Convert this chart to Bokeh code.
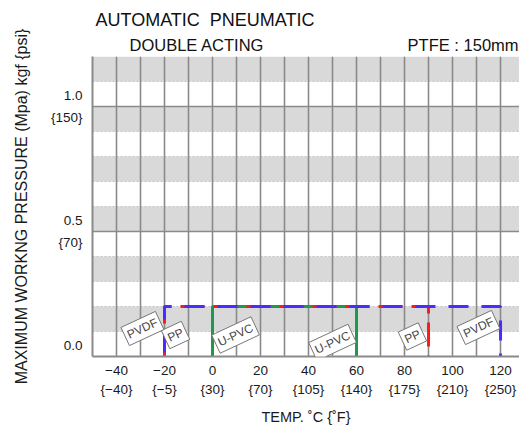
from bokeh.plotting import figure
from bokeh.models import Range1d, FixedTicker, Grid, Label, LinearAxis
from bokeh.embed import file_html
from bokeh.resources import INLINE

# ---------------- data ----------------
temp_c_ticks = [-40, -20, 0, 20, 40, 60, 80, 100, 120]
temp_c_labels = ["−40", "−20", "0", "20", "40", "60", "80", "100", "120"]
temp_f_labels = ["{−40}", "{−5}", "{30}", "{70}", "{105}", "{140}", "{175}", "{210}", "{250}"]
temp_grid = [-40, -30, -20, -10, 0, 10, 20, 30, 40, 50, 60, 70, 80, 90, 100, 110, 120]

pressure_ticks = [0.0, 0.5, 1.0]
pressure_mpa_labels = ["0.0", "0.5", "1.0"]
pressure_psi_labels = ["\u00a0", "{70}", "{150}"]
pressure_bands = [0.0, 0.1, 0.2, 0.3, 0.4, 0.5, 0.6, 0.7, 0.8, 0.9, 1.0, 1.1, 1.2]
pressure_major = [0.5, 1.0]

materials = ["U-PVC", "PP", "PVDF"]
t_min = [0, -20, -20]
t_max = [60, 90, 120]
p_max = [0.2, 0.2, 0.2]

title_line1 = "AUTOMATIC\u00a0 PNEUMATIC"
subtitles = ["DOUBLE ACTING", "PTFE : 150mm"]

# ---------------- styles ----------------
FONT = "Liberation Sans"
colors = {"U-PVC": "#1e9a4c", "PP": "#ff1a1a", "PVDF": "#4a2cff"}
dashes = {"U-PVC": "solid", "PP": "24 9", "PVDF": "20 13"}
dash_offsets = {"U-PVC": 0, "PP": 0, "PVDF": -4}
lab_lo = {"PVDF": (-9.2, 0.112), "PP": (4.6, 0.086), "U-PVC": (9.6, 0.086)}
lab_hi = {"PVDF": (-9.2, 0.116), "PP": (-6.7, 0.08), "U-PVC": (-10.0, 0.056)}
subtitle_pos = [-6.5, 104.4]   # horizontal centres of the two sub-title texts

p = figure(width=519, height=428, output_backend="svg", toolbar_location=None,
           x_range=Range1d(-50, 127.9), y_range=Range1d(0, 1.2),
           min_border_left=92, min_border_right=0, min_border_top=56,
           min_border_bottom=72)
p.outline_line_color = None
p.background_fill_color = "white"
p.border_fill_color = "white"

# title rows
p.title.text = title_line1
p.title.align = "left"
p.title.offset = 3
p.title.text_font = FONT
p.title.text_font_size = "18px"
p.title.text_font_style = "normal"
p.title.text_color = "#111111"
p.title.standoff = 5

sub = LinearAxis(ticker=FixedTicker(ticks=subtitle_pos),
                 major_label_overrides={t: s for t, s in zip(subtitle_pos, subtitles)})
sub.axis_line_color = None
sub.major_tick_line_color = None
sub.minor_tick_line_color = None
sub.major_label_standoff = -3
sub.major_label_text_font = FONT
sub.major_label_text_font_size = "16.5px"
sub.major_label_text_color = "#111111"
p.add_layout(sub, "above")

# grids
p.ygrid.ticker = FixedTicker(ticks=pressure_bands)
p.ygrid.band_fill_color = "#d9d9d9"
p.ygrid.band_fill_alpha = 1.0
p.ygrid.grid_line_color = "#c4c4c4"
p.ygrid.grid_line_dash = "2 2"
p.ygrid.grid_line_width = 1
p.ygrid.level = "image"

p.xgrid.ticker = FixedTicker(ticks=temp_grid)
p.xgrid.grid_line_color = "#8a8a8a"
p.xgrid.grid_line_width = 1.6
p.xgrid.grid_line_alpha = 1.0

g2 = Grid(dimension=1, ticker=FixedTicker(ticks=pressure_major),
          grid_line_color="#8a8a8a", grid_line_width=1.6)
p.add_layout(g2)

for ax in (p.below[0], p.left[0]):
    ax.axis_line_color = "#8a8a8a"
    ax.axis_line_width = 2
    ax.major_tick_line_color = None
    ax.minor_tick_line_color = None
    ax.major_label_text_font = FONT
    ax.major_label_text_font_size = "13.5px"
    ax.major_label_text_color = "#1a1a1a"
    ax.axis_label_text_font = FONT
    ax.axis_label_text_font_style = "normal"
    ax.axis_label_text_color = "#1a1a1a"

xa = p.below[0]
xa.ticker = FixedTicker(ticks=temp_c_ticks)
xa.major_label_overrides = {t: f"{c}\n{f}" for t, c, f in zip(temp_c_ticks, temp_c_labels, temp_f_labels)}
xa.major_label_text_line_height = 1.3
xa.major_label_standoff = 0
xa.axis_label = "TEMP. ˚C {˚F}"
xa.axis_label_text_font_size = "14.5px"
xa.axis_label_standoff = 9

ya = p.left[0]
ya.ticker = FixedTicker(ticks=pressure_ticks)
ya.major_label_overrides = {t: f"{m}\n{s}" for t, m, s in zip(pressure_ticks, pressure_mpa_labels, pressure_psi_labels)}
ya.major_label_text_line_height = 1.43
ya.major_label_standoff = 4
ya.axis_label = "MAXIMUM WORKNG PRESSURE (Mpa) kgf {psi}"
ya.axis_label_text_font_size = "16px"
ya.axis_label_standoff = 18

for name, lo, hi, pm in zip(materials, t_min, t_max, p_max):
    xs = [lo, lo, hi, hi]
    ys = [0, pm, pm, 0]
    p.line(xs, ys, line_color=colors[name], line_width=3,
           line_dash=dashes[name], line_dash_offset=dash_offsets[name])

for name, lo, hi, pm in zip(materials, t_min, t_max, p_max):
    for base, (dx, yy) in ((lo, lab_lo[name]), (hi, lab_hi[name])):
        p.add_layout(Label(x=base + dx, y=yy, text=name, angle=25, angle_units="deg",
                           text_align="center", text_baseline="middle",
                           text_font=FONT, text_font_size="12px", text_color="#444444",
                           background_fill_color="white", background_fill_alpha=1.0,
                           border_line_color="#777777", border_line_width=1,
                           padding=3))

open("out.html", "w").write(file_html(p, INLINE))
